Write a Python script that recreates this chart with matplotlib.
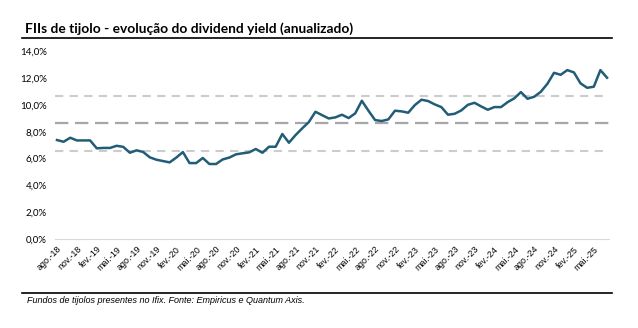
import numpy as np
import matplotlib
matplotlib.use("Agg")
from matplotlib import pyplot as plt
from matplotlib.lines import Line2D

# dividend yield mensal, ago-18 ate jul-25 (%)
dy = [7.39, 7.26, 7.56, 7.36, 7.36, 7.36, 6.77, 6.80, 6.80, 6.96,
      6.88, 6.44, 6.62, 6.50, 6.10, 5.92, 5.82, 5.72, 6.08, 6.49,
      5.67, 5.67, 6.05, 5.60, 5.60, 5.94, 6.08, 6.32, 6.40, 6.47,
      6.72, 6.44, 6.89, 6.89, 7.84, 7.19, 7.76, 8.26, 8.73, 9.50,
      9.25, 9.00, 9.08, 9.28, 9.03, 9.38, 10.32, 9.58, 8.88, 8.81,
      8.93, 9.58, 9.53, 9.43, 10.00, 10.40, 10.30, 10.05, 9.85, 9.28,
      9.35, 9.60, 10.02, 10.17, 9.90, 9.65, 9.85, 9.85, 10.22, 10.50,
      10.97, 10.47, 10.62, 10.99, 11.59, 12.41, 12.26, 12.61, 12.44, 11.62,
      11.29, 11.37, 12.61, 12.04]

tick_labels = ["ago.-18", "nov.-18", "fev.-19", "mai.-19", "ago.-19", "nov.-19",
               "fev.-20", "mai.-20", "ago.-20", "nov.-20", "fev.-21", "mai.-21",
               "ago.-21", "nov.-21", "fev.-22", "mai.-22", "ago.-22", "nov.-22",
               "fev.-23", "mai.-23", "ago.-23", "nov.-23", "fev.-24", "mai.-24",
               "ago.-24", "nov.-24", "fev.-25", "mai.-25"]

media = 8.65
banda_sup = 10.70
banda_inf = 6.60

title = "FIIs de tijolo - evolução do dividend yield (anualizado)"
fonte = "Fundos de tijolos presentes no Ifix. Fonte: Empiricus e Quantum Axis."

fig = plt.figure(figsize=(6.38, 3.28), dpi=100)
ax = fig.add_axes([0.0862, 0.2713, 0.8684, 0.5717])

x = np.arange(len(dy))
ax.axhline(banda_sup, color="#cccccc", lw=1.5, dashes=(4, 3))
ax.axhline(banda_inf, color="#cccccc", lw=1.5, dashes=(4, 3))
ax.axhline(media, color="#a6a6a6", lw=1.6, dashes=(6, 3))
ax.plot(x, dy, color="#215d76", lw=1.8, solid_joinstyle="round")

ax.set_xlim(-0.3, len(dy) - 0.7)
ax.set_ylim(0, 14)
ax.set_yticks(np.arange(0, 15, 2))
ax.set_yticklabels([f"{v:.1f}%".replace(".", ",") for v in np.arange(0, 15, 2)],
                   fontfamily="Lato", fontsize=7)
ax.set_xticks(np.arange(0, len(tick_labels) * 3, 3))
ax.set_xticklabels(tick_labels, rotation=45, ha="right", rotation_mode="anchor",
                   fontfamily="Liberation Sans", fontsize=6.4)
ax.tick_params(length=0, pad=4)
ax.tick_params(axis="y", pad=6)
for s in ["top", "right", "left"]:
    ax.spines[s].set_visible(False)
ax.spines["bottom"].set_color("#d9d9d9")

fig.text(0.039, 0.899, title, fontfamily="Lato", fontweight="bold", fontsize=9.9,
         va="baseline")
fig.add_artist(Line2D([0.034, 0.96], [0.884, 0.884], color="black", lw=1.2))
fig.add_artist(Line2D([0.034, 0.96], [0.107, 0.107], color="black", lw=1.2))
fig.text(0.042, 0.077, fonte, fontfamily="Liberation Sans", style="italic",
         fontsize=6.5, va="baseline")

fig.savefig("out.png", dpi=100)
